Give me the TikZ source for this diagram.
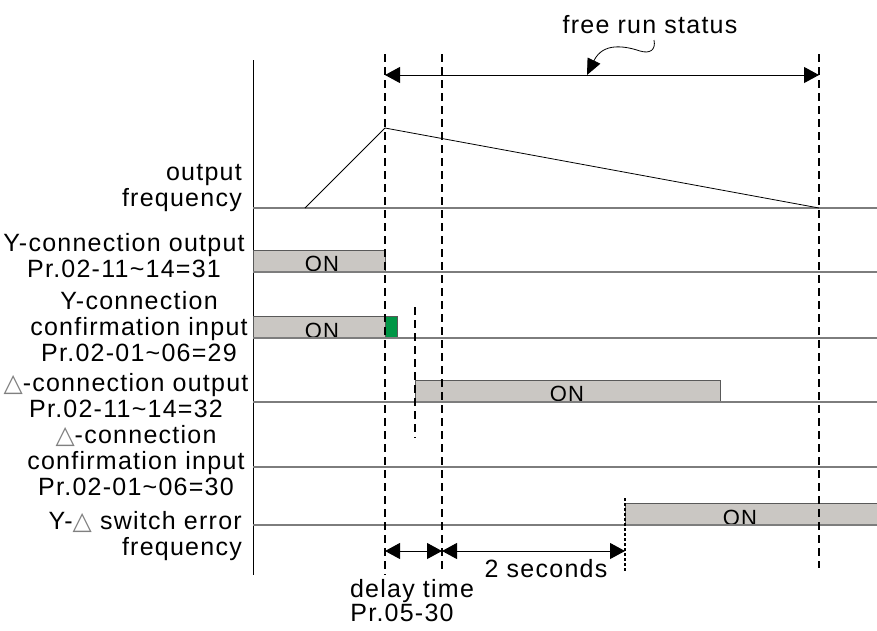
\documentclass[tikz,border=0pt]{standalone}
\usepackage{fontspec}
\setmainfont{Liberation Sans}[LetterSpace=5]
\newfontfamily\symfont{DejaVu Sans}
\usetikzlibrary{arrows.meta}
\definecolor{ongray}{RGB}{202,199,195}
\definecolor{ongreen}{RGB}{0,150,70}
\definecolor{baseline}{RGB}{125,125,125}
\newcommand{\deltasym}{{\symfont\fontsize{25}{26}\selectfont\textcolor{gray}{△}}}

\begin{document}
\begin{tikzpicture}[
    x=1pt, y=-1pt,
    >={Triangle[length=15pt,width=16pt]},
    lbl/.style={font=\fontsize{25}{26}\selectfont, align=center, inner sep=0pt},
    onlbl/.style={font=\fontsize{22}{22}\selectfont, anchor=base, inner sep=0pt},
    onbox/.style={draw=gray!70!black, fill=#1, line width=0.6pt},
    base/.style={draw=baseline, line width=1.2pt},
    marker/.style={black, line width=2pt, dash pattern=on 8pt off 5pt},
    fine/.style={black, line width=1.4pt, dash pattern=on 3pt off 2pt},
  ]
  \useasboundingbox (0,0) rectangle (877,630);

  % Axis
  \coordinate (axtop) at (253,60);
  \coordinate (axbot) at (253,575);
  \draw[line width=1pt] (axtop) -- (axbot);

  % ON states
  \draw[onbox=ongray] (253,250) rectangle (385,272);
  \draw[onbox=ongray] (253,316) rectangle (385,338);
  \draw[onbox=ongreen] (385,316) rectangle (397,338);
  \draw[onbox=ongray] (415,380) rectangle (720,402);
  \draw[onbox=ongray] (625,503) rectangle (877,525);
  \node[onlbl] (on1) at (322,271) {ON};
  \node[onlbl] (on2) at (322,338) {ON};
  \node[onlbl] (on3) at (567,401) {ON};
  \node[onlbl] (on5) at (740,525) {ON};

  % Row baselines
  \foreach \n/\y in {f/208, a/272, b/338, c/402, d/467, e/525} {
    \coordinate (r\n) at (253,\y);
    \coordinate (r\n-e) at (877,\y);
    \draw[base] (r\n) -- (r\n-e);
  }

  % Output frequency
  \coordinate (rampa) at (305,208);
  \coordinate (rampb) at (385,128);
  \coordinate (rampc) at (819,208);
  \draw[line width=0.8pt] (rampa) -- (rampb) -- (rampc);

  % Time markers
  \foreach \n/\x/\t/\b in {0/385/54/575, 1/442/54/572, 2/819/54/568} {
    \coordinate (t\n) at (\x,\t);
    \coordinate (b\n) at (\x,\b);
    \draw[marker] (t\n) -- (b\n);
  }
  \coordinate (dt) at (415,307);
  \coordinate (db) at (415,438);
  \draw[marker] (dt) -- (db);
  \coordinate (et) at (625,498);
  \coordinate (eb) at (625,572);
  \draw[fine] (et) -- (eb);

  % Free run
  \coordinate (fra) at (385,75);
  \coordinate (frb) at (819,75);
  \draw[<->, line width=1pt] (fra) -- (frb);
  \node[lbl] (free) at (650,25) {free run status};
  \coordinate (wav) at (654,40);
  \draw[-{Triangle[length=16pt,width=14pt]}, line width=0.8pt]
    (wav) .. controls (656,50) and (650,54) .. (640,51)
    .. controls (625,46) and (603,42) .. (587,75);

  % Delay and 2 seconds
  \coordinate (da) at (385,551);
  \coordinate (dm) at (442,551);
  \coordinate (dz) at (625,551);
  \draw[<->, line width=1pt] (da) -- (dm);
  \draw[<->, line width=1pt] (dm) -- (dz);
  \node[lbl] (twosec) at (546,569) {2 seconds};
  \node[lbl] (delay) at (412,591) {delay time};
  \node[lbl] (prdelay) at (402,613) {Pr.05-30};

  % Row labels
  \node[lbl, anchor=east, align=right] (lfreq) at (242,188) {output\\frequency};
  \node[lbl] (lya) at (124,256) {Y-connection output\\Pr.02-11\textasciitilde14=31};
  \node[lbl] (lyb) at (139,327) {Y-connection\\confirmation input\\Pr.02-01\textasciitilde06=29};
  \node[lbl] (ldc) at (126,396) {\deltasym-connection output\\Pr.02-11\textasciitilde14=32};
  \node[lbl] (ldd) at (136,461) {\deltasym-connection\\confirmation input\\Pr.02-01\textasciitilde06=30};
  \node[lbl, anchor=east, align=right] (lerr) at (242,536) {Y-\deltasym\ switch error\\frequency};

\end{tikzpicture}
\end{document}
